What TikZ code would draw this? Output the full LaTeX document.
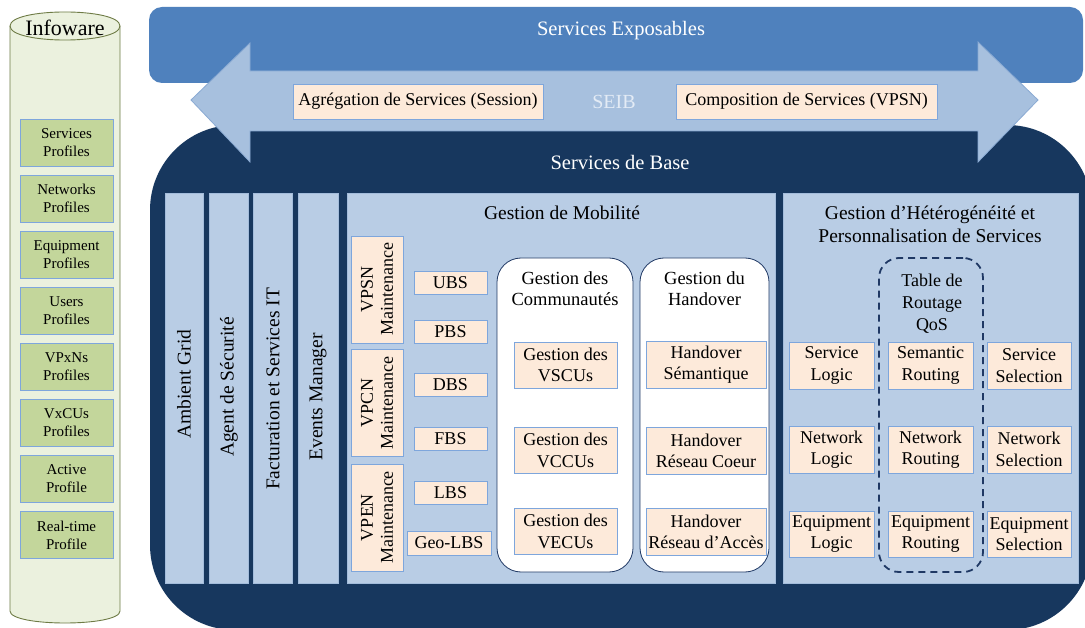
\documentclass[tikz,border=0pt]{standalone}
\usepackage{fontspec}
\setmainfont{Liberation Serif}
\definecolor{expo}{HTML}{4F81BD}
\definecolor{arrowfill}{HTML}{A7C0DE}
\definecolor{arrowdraw}{HTML}{8AAAD3}
\definecolor{basecol}{HTML}{17375E}
\definecolor{panel}{HTML}{B9CDE5}
\definecolor{paneldraw}{HTML}{A3BCDB}
\definecolor{peach}{HTML}{FDEADA}
\definecolor{peachdraw}{HTML}{7EA6DC}
\definecolor{navy}{HTML}{1F3864}
\definecolor{cylfill}{HTML}{EBF1DE}
\definecolor{cyldraw}{HTML}{6E7B45}
\definecolor{profile}{HTML}{C3D69B}
\definecolor{seib}{HTML}{E3EBF5}
\newcommand\fsz[2]{\fontsize{#1}{#2}\selectfont}
\tikzset{
  pbox/.style={draw=peachdraw, fill=peach, line width=0.8pt, inner sep=0pt, align=center, font=\fsz{18}{21.5}},
  prof/.style={draw=peachdraw, fill=profile, line width=0.8pt, inner sep=0pt, align=center, font=\fsz{15}{18},
    minimum width=93pt, minimum height=47pt},
  col/.style={draw=paneldraw, fill=panel, line width=0.6pt, inner sep=0pt},
  collabel/.style={inner sep=0pt, rotate=90, font=\fsz{19.5}{22}},
  panelbox/.style={draw=paneldraw, fill=panel, line width=0.6pt, inner sep=0pt},
  whitebox/.style={draw=navy, fill=white, line width=0.8pt, rounded corners=24pt, inner sep=0pt},
  maint/.style={pbox, rotate=90, font=\fsz{18}{20}, minimum width=107pt, minimum height=52pt},
  small/.style={pbox, minimum width=73pt, minimum height=23pt},
  gbox/.style={pbox, minimum width=103pt, minimum height=46pt},
  hbox/.style={pbox, minimum width=120pt, minimum height=47pt},
  hetbox/.style={pbox, minimum width=85pt, minimum height=47pt},
  title/.style={inner sep=0pt, align=center, font=\fsz{19.5}{23}},
}
\begin{document}
\begin{tikzpicture}[x=1pt,y=-1pt]
\useasboundingbox (0,0) rectangle (1085,628);
\fill[white] (0,0) rectangle (1085,628);

% Infoware cylinder
\path[draw=cyldraw, fill=cylfill, line width=0.9pt]
  (10,26) -- (10,611) .. controls (10,627) and (120,627) .. (120,611)
  -- (120,26) .. controls (120,7.3) and (10,7.3) .. (10,26) -- cycle;
\draw[cyldraw, line width=0.9pt] (10,26) .. controls (10,44.7) and (120,44.7) .. (120,26);
\node[inner sep=0pt, font=\fsz{22}{24}] (info) at (65,28) {Infoware};
\node[prof] (p1) at (66.5,142.5) {Services\\Profiles};
\node[prof] (p2) at (66.5,198.5) {Networks\\Profiles};
\node[prof] (p3) at (66.5,254.5) {Equipment\\Profiles};
\node[prof] (p4) at (66.5,310.5) {Users\\Profiles};
\node[prof] (p5) at (66.5,366.5) {VPxNs\\Profiles};
\node[prof] (p6) at (66.5,422.5) {VxCUs\\Profiles};
\node[prof] (p7) at (66.5,479) {Active\\Profile};
\node[prof] (p8) at (66.5,535) {Real-time\\Profile};

% Services Exposables
\node[fill=expo, rounded corners=13pt, minimum width=934pt, minimum height=76pt, inner sep=0pt] (expo) at (616,45) {};
\node[inner sep=0pt, text=white, font=\fsz{20.5}{23}] (expot) at (621,31) {Services Exposables};

% Services de Base
\node[fill=basecol, rounded corners=85pt, minimum width=942pt, minimum height=505pt, inner sep=0pt] (base) at (621,377.5) {};

% SEIB double arrow
\path[fill=arrowfill, draw=arrowdraw, line width=0.8pt]
  (191,100) -- (250,43) -- (250,71) -- (978,71) -- (978,42) -- (1038,100)
  -- (978,162) -- (978,131) -- (250,131) -- (250,162) -- cycle;
\node[pbox, minimum width=250pt, minimum height=35pt] (agg) at (418,101.5) {Agrégation de Services (Session)};
\node[pbox, minimum width=261pt, minimum height=35pt] (comp) at (806.5,101.5) {Composition de Services (VPSN)};
\node[inner sep=0pt, text=seib, font=\fsz{20}{22}] (seibt) at (614,102) {SEIB};

\node[inner sep=0pt, text=white, font=\fsz{20.5}{23}] (baset) at (620,162) {Services de Base};

% Vertical columns
\node[col, minimum width=38pt, minimum height=390pt] (amb) at (184,388) {};
\node[col, minimum width=39pt, minimum height=390pt] (agent) at (228.5,388) {};
\node[col, minimum width=39pt, minimum height=390pt] (fact) at (272.5,388) {};
\node[col, minimum width=40pt, minimum height=390pt] (events) at (318,388) {};
\node[collabel] (ambt) at (184,384) {Ambient Grid};
\node[collabel] (agentt) at (229,387) {Agent de Sécurité};
\node[collabel] (factt) at (273,389) {Facturation et Services IT};
\node[collabel] (eventst) at (318,397) {Events Manager};

% Gestion de Mobilite
\node[panelbox, minimum width=428pt, minimum height=390pt] (mob) at (561,388) {};
\node[title] (mobt) at (562,213) {Gestion de Mobilité};
\node[maint] (vpsn) at (377,289.5) {VPSN\\Maintenance};
\node[maint] (vpcn) at (377,403) {VPCN\\Maintenance};
\node[maint] (vpen) at (377,517.5) {VPEN\\Maintenance};
\node[small] (ubs) at (450.5,282.5) {UBS};
\node[small] (pbs) at (450.5,331.5) {PBS};
\node[small] (dbs) at (450.5,385) {DBS};
\node[small] (fbs) at (450.5,439) {FBS};
\node[small] (lbs) at (450.5,492.5) {LBS};
\node[small, minimum width=84pt, minimum height=24pt] (geo) at (449,543) {Geo-LBS};
\node[whitebox, minimum width=136pt, minimum height=314pt] (comm) at (565,415) {};
\node[title, font=\fsz{18.5}{21}] (commt) at (565,289) {Gestion des\\Communautés};
\node[whitebox, minimum width=129pt, minimum height=314pt] (hand) at (704.5,415) {};
\node[title, font=\fsz{18.5}{21}] (handt) at (704.5,289) {Gestion du\\Handover};
\node[gbox] (vscu) at (565.5,365) {Gestion des\\VSCUs};
\node[gbox] (vccu) at (565.5,450.5) {Gestion des\\VCCUs};
\node[gbox] (vecu) at (565.5,531.5) {Gestion des\\VECUs};
\node[hbox] (hsem) at (706,364.5) {Handover\\Sémantique};
\node[hbox] (hcoeur) at (706,451) {Handover\\Réseau Coeur};
\node[hbox] (hacces) at (706,532) {Handover\\Réseau d’Accès};

% Gestion d'Heterogeneite
\node[panelbox, minimum width=295pt, minimum height=390pt] (het) at (930.5,388) {};
\node[title] (hett) at (930,224.5) {Gestion d’Hétérogénéité et\\Personnalisation de Services};
\node[draw=navy, line width=1.8pt, dash pattern=on 7pt off 5pt, rounded corners=20pt,
      minimum width=104pt, minimum height=314pt, inner sep=0pt] (qos) at (931,415) {};
\node[title, font=\fsz{18}{22}] (qost) at (932,304) {Table de\\Routage\\QoS};
\node[hetbox] (sl) at (831.5,365.5) {Service\\Logic};
\node[hetbox] (nl) at (831.5,449.5) {Network\\Logic};
\node[hetbox, minimum height=46pt] (el) at (831.5,534) {Equipment\\Logic};
\node[hetbox] (sr) at (930.5,365.5) {Semantic\\Routing};
\node[hetbox] (nr) at (930.5,449.5) {Network\\Routing};
\node[hetbox, minimum height=46pt] (er) at (930.5,534) {Equipment\\Routing};
\node[hetbox, minimum width=84pt] (ss) at (1029,365.5) {Service\\Selection};
\node[hetbox, minimum width=84pt] (ns) at (1029,449.5) {Network\\Selection};
\node[hetbox, minimum width=84pt, minimum height=46pt] (es) at (1029,534) {Equipment\\Selection};
\end{tikzpicture}
\end{document}
